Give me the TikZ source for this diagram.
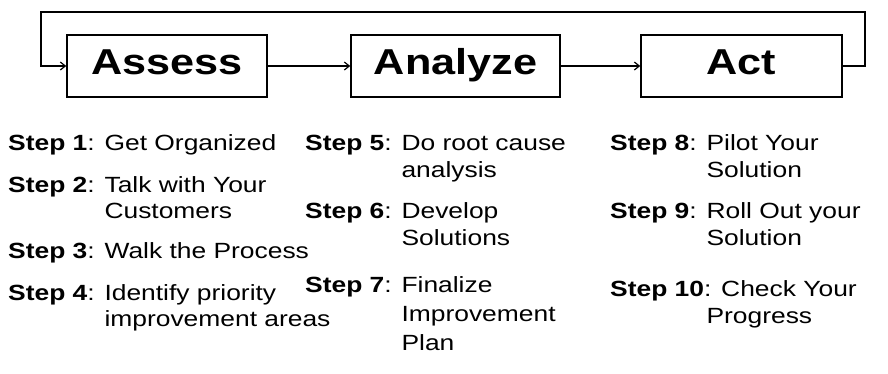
\documentclass[tikz,border=0pt]{standalone}
\usepackage{fontspec}
\setmainfont{Liberation Sans}[FakeStretch=1.2]
\usetikzlibrary{arrows.meta}
\newcommand\contline{\hphantom{\textbf{Step 0}: }}
\begin{document}
\begin{tikzpicture}[x=1pt,y=-1pt,
  phase/.style={draw,line width=1.5pt,minimum height=62pt,inner sep=0pt,
    text height=26pt,text depth=9pt,
    font=\fontsize{36}{40}\selectfont\bfseries},
  flow/.style={line width=1.4pt,-{Straight Barb[length=5pt,width=8pt,line width=1.2pt]}},
  item/.style={anchor=base west,inner sep=0pt,align=left,font=\fontsize{22}{27}\selectfont},
  tight/.style={font=\fontsize{22}{26}\selectfont},
  loose/.style={font=\fontsize{22}{29}\selectfont}]
\useasboundingbox[fill=white] (0,0) rectangle (888,373);
\node[phase,minimum width=200pt] (assess) at (167,66) {Assess};
\node[phase,minimum width=209pt] (analyze) at (455.5,66) {Analyze};
\node[phase,minimum width=201pt] (act) at (741.5,66) {Act};
\coordinate (tr) at (865,12);
\coordinate (tl) at (41,12);
\draw[flow] (assess) -- (analyze);
\draw[flow] (analyze) -- (act);
\draw[flow,line width=1.8pt] (act.east) -- (act.east -| tr) -- (tr) -- (tl) -- (tl |- assess.west) -- (assess.west);
% column 1 (node placed at baseline of its last line)
\node[item,tight] (s1) at (8,150) {\textbf{Step 1}: Get Organized};
\node[item,tight] (s2) at (8,218) {\textbf{Step 2}: Talk with Your\\\contline Customers};
\node[item,tight] (s3) at (8,258) {\textbf{Step 3}: Walk the Process};
\node[item,tight] (s4) at (8,326) {\textbf{Step 4}: Identify priority\\\contline improvement areas};
% column 2
\node[item] (s5) at (305,177) {\textbf{Step 5}: Do root cause\\\contline analysis};
\node[item] (s6) at (305,245) {\textbf{Step 6}: Develop\\\contline Solutions};
\node[item,loose] (s7) at (305,350) {\textbf{Step 7}: Finalize\\\contline Improvement\\\contline Plan};
% column 3
\node[item] (s8) at (610,177) {\textbf{Step 8}: Pilot Your\\\contline Solution};
\node[item] (s9) at (610,245) {\textbf{Step 9}: Roll Out your\\\contline Solution};
\node[item] (s10) at (610,323) {\textbf{Step 10}: Check Your\\\contline Progress};
\end{tikzpicture}
\end{document}
